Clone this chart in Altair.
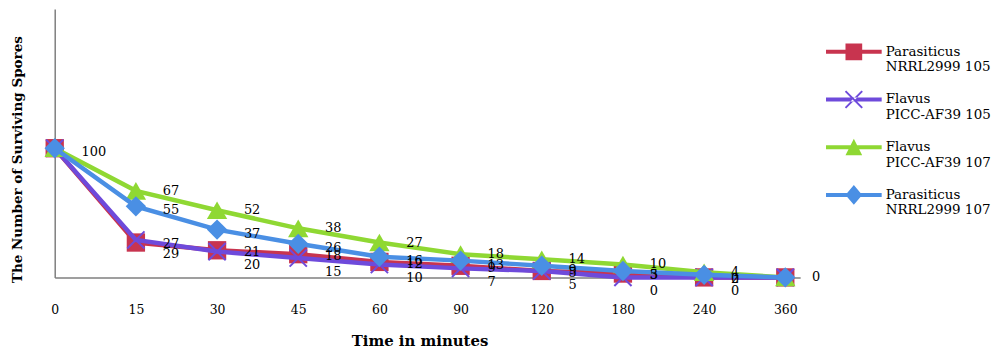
import altair as alt
import pandas as pd

# ---- data ----
times = ["0", "15", "30", "45", "60", "90", "120", "180", "240", "360"]
series_names = [
    "Parasiticus NRRL2999 105",
    "Flavus PICC-AF39 105",
    "Flavus PICC-AF39 107",
    "Parasiticus NRRL2999 107",
]
parasiticus_105 = [100, 27, 21, 18, 12, 9, 5, 3, 0, 0]
flavus_105 = [100, 29, 20, 15, 10, 7, 5, 0, 0, 0]
flavus_107 = [100, 67, 52, 38, 27, 18, 14, 10, 4, 0]
parasiticus_107 = [100, 55, 37, 26, 16, 13, 9, 5, 2, 0]
values = [parasiticus_105, flavus_105, flavus_107, parasiticus_107]

# ---- styles ----
colors = ["#C8344F", "#6E4ADB", "#8FD833", "#4A8FE4"]
FONT = "DejaVu Serif"

rows = []
for name, vals in zip(series_names, values):
    for t, v in zip(times, vals):
        rows.append({"series": name, "t": t, "value": v})
df = pd.DataFrame(rows)

x_enc = alt.X(
    "t:O",
    sort=times,
    scale=alt.Scale(type="point", padding=0.0917, align=0),
    axis=alt.Axis(
        title="Time in minutes", labelAngle=0, ticks=False, grid=False,
        labelPadding=26, labelFont=FONT, labelFontSize=12.5, labelColor="#000",
        domainColor="#7f7f7f", domainWidth=1.5,
        titleFont=FONT, titleFontWeight="bold", titleFontSize=15, titleColor="#000",
        titleX=367, titleY=64, titleBaseline="middle", titleAlign="center",
    ),
)
y_enc = alt.Y(
    "value:Q",
    scale=alt.Scale(domain=[0, 207.7], nice=False, zero=True),
    axis=alt.Axis(
        title="The Number of Surviving Spores", labels=False, ticks=False, grid=False,
        domainColor="#7f7f7f", domainWidth=1.5,
        titleFont=FONT, titleFontWeight="bold", titleFontSize=13.6, titleColor="#000",
        titleX=-37, titleY=151, titleBaseline="middle", titleAlign="center", titleAngle=-90,
    ),
)

X_PATH = "M-1,-1L1,1M-1,1L1,-1"
marker_specs = [
    dict(shape="square", filled=True, size=340),
    dict(shape=X_PATH, filled=False, size=300, strokeWidth=2),
    dict(shape="triangle-up", filled=True, size=420),
    dict(shape="diamond", filled=True, size=420),
]
label_dy = [2, 14, 0, 4]

base = alt.Chart(df)
layers = []
for i, name in enumerate(series_names):
    sub = base.transform_filter(alt.datum.series == name)
    layers.append(sub.mark_line(color=colors[i], strokeWidth=4.5).encode(x=x_enc, y=y_enc))
    spec = marker_specs[i]
    if spec["filled"]:
        layers.append(sub.mark_point(shape=spec["shape"], filled=True, size=spec["size"],
                                     color=colors[i], opacity=1).encode(x=x_enc, y=y_enc))
    else:
        layers.append(sub.mark_point(shape=spec["shape"], filled=False, size=spec["size"],
                                     color=colors[i], strokeWidth=spec["strokeWidth"],
                                     opacity=1).encode(x=x_enc, y=y_enc))

# one shared label where all series coincide (t = 0 and t = 360)
for i, name in enumerate(series_names):
    if i == 3:
        cond = (alt.datum.series == name) & (alt.datum.t != "360")
    elif i == 2:
        cond = (alt.datum.series == name) & (alt.datum.t != "0")
    else:
        cond = (alt.datum.series == name) & (alt.datum.t != "360") & (alt.datum.t != "0")
    layers.append(
        base.transform_filter(cond).mark_text(
            align="left", baseline="middle", dx=27, dy=label_dy[i],
            font=FONT, fontSize=13, color="#000",
        ).encode(x=x_enc, y=y_enc, text="value:Q")
    )

# legend symbols: line with marker (unit = 20px)
line = "M-1.4,-0.1H1.4V0.1H-1.4Z"
leg_square = line + "M-0.42,-0.42H0.42V0.42H-0.42Z"
leg_x = line + (
    "M-0.385,-0.455L0.455,0.385L0.385,0.455L-0.455,-0.385Z"
    "M-0.385,0.455L0.455,-0.385L0.385,-0.455L-0.455,0.385Z"
)
leg_tri = line + "M0,-0.42L0.42,0.4L-0.42,0.4Z"
leg_dia = line + "M0,-0.5L0.42,0L0,0.5L-0.42,0Z"
legend_paths = [leg_square, leg_x, leg_tri, leg_dia]

leg_cfg = dict(
    title=None, orient="none", legendX=784, legendY=23,
    symbolSize=1600, symbolStrokeWidth=0, symbolOpacity=1,
    labelFont=FONT, labelFontSize=13.5, labelColor="#000", labelOffset=12,
    labelBaseline="middle", labelLimit=200,
    labelExpr="[slice(datum.label, 0, indexof(datum.label, ' ')), slice(datum.label, indexof(datum.label, ' ') + 1)]",
    rowPadding=6, padding=0,
)
legend_layer = base.transform_filter("false").mark_point(filled=True, opacity=1, size=1600).encode(
    color=alt.Color("series:N", scale=alt.Scale(domain=series_names, range=colors),
                    legend=alt.Legend(**leg_cfg)),
    shape=alt.Shape("series:N", scale=alt.Scale(domain=series_names, range=legend_paths),
                    legend=alt.Legend(**leg_cfg)),
)
layers.append(legend_layer)

chart = alt.layer(*layers).properties(
    width=750, height=270,
    padding={"left": 47, "top": 0, "right": 193, "bottom": 76},
    autosize=alt.AutoSizeParams(type="none"),
).configure_view(stroke="transparent")

chart.save("out.html", embed_options={"renderer": "svg", "actions": False})
